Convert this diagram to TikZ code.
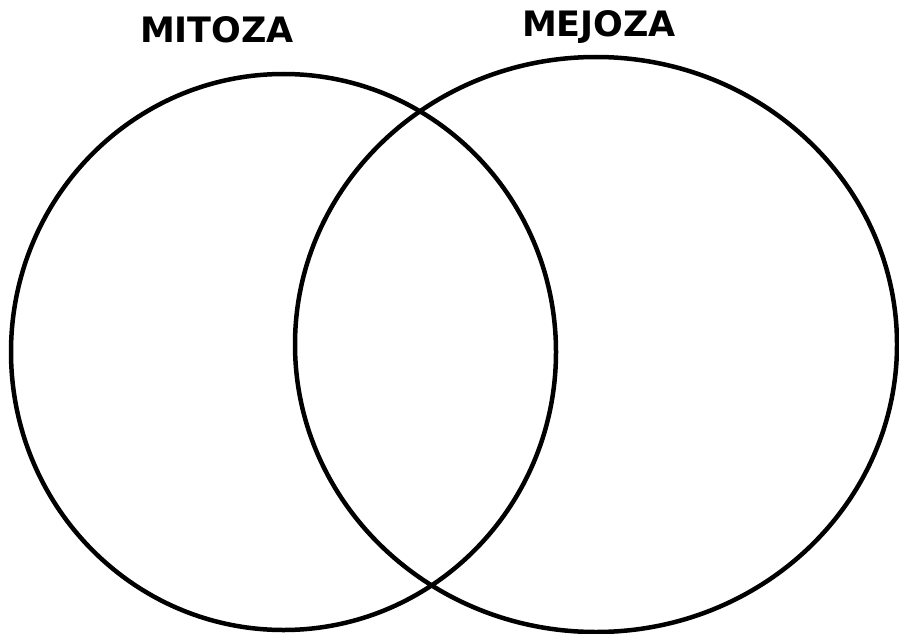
\documentclass[tikz,border=0pt]{standalone}
\usepackage{fontspec}
\setmainfont{DejaVu Sans}
\usepackage{tikz}
\tikzset{
  setring/.style={draw=black, line width=4.5pt},
  setlabel/.style={font=\fontsize{35}{40}\selectfont\bfseries, inner sep=0pt}
}

\begin{document}
\begin{tikzpicture}[x=1pt, y=-1pt]
  \useasboundingbox (0,0) rectangle (899,634);
  % the two sets
  \draw[setring] (283.5,352) ellipse [x radius=272.5, y radius=278];
  \draw[setring] (596,344.5) ellipse [x radius=301, y radius=287.5];
  % titles
  \node[setlabel, anchor=base] (mitoza) at (217,43) {MITOZA};
  \node[setlabel, anchor=base] (mejoza) at (599,37) {MEJOZA};
\end{tikzpicture}
\end{document}
